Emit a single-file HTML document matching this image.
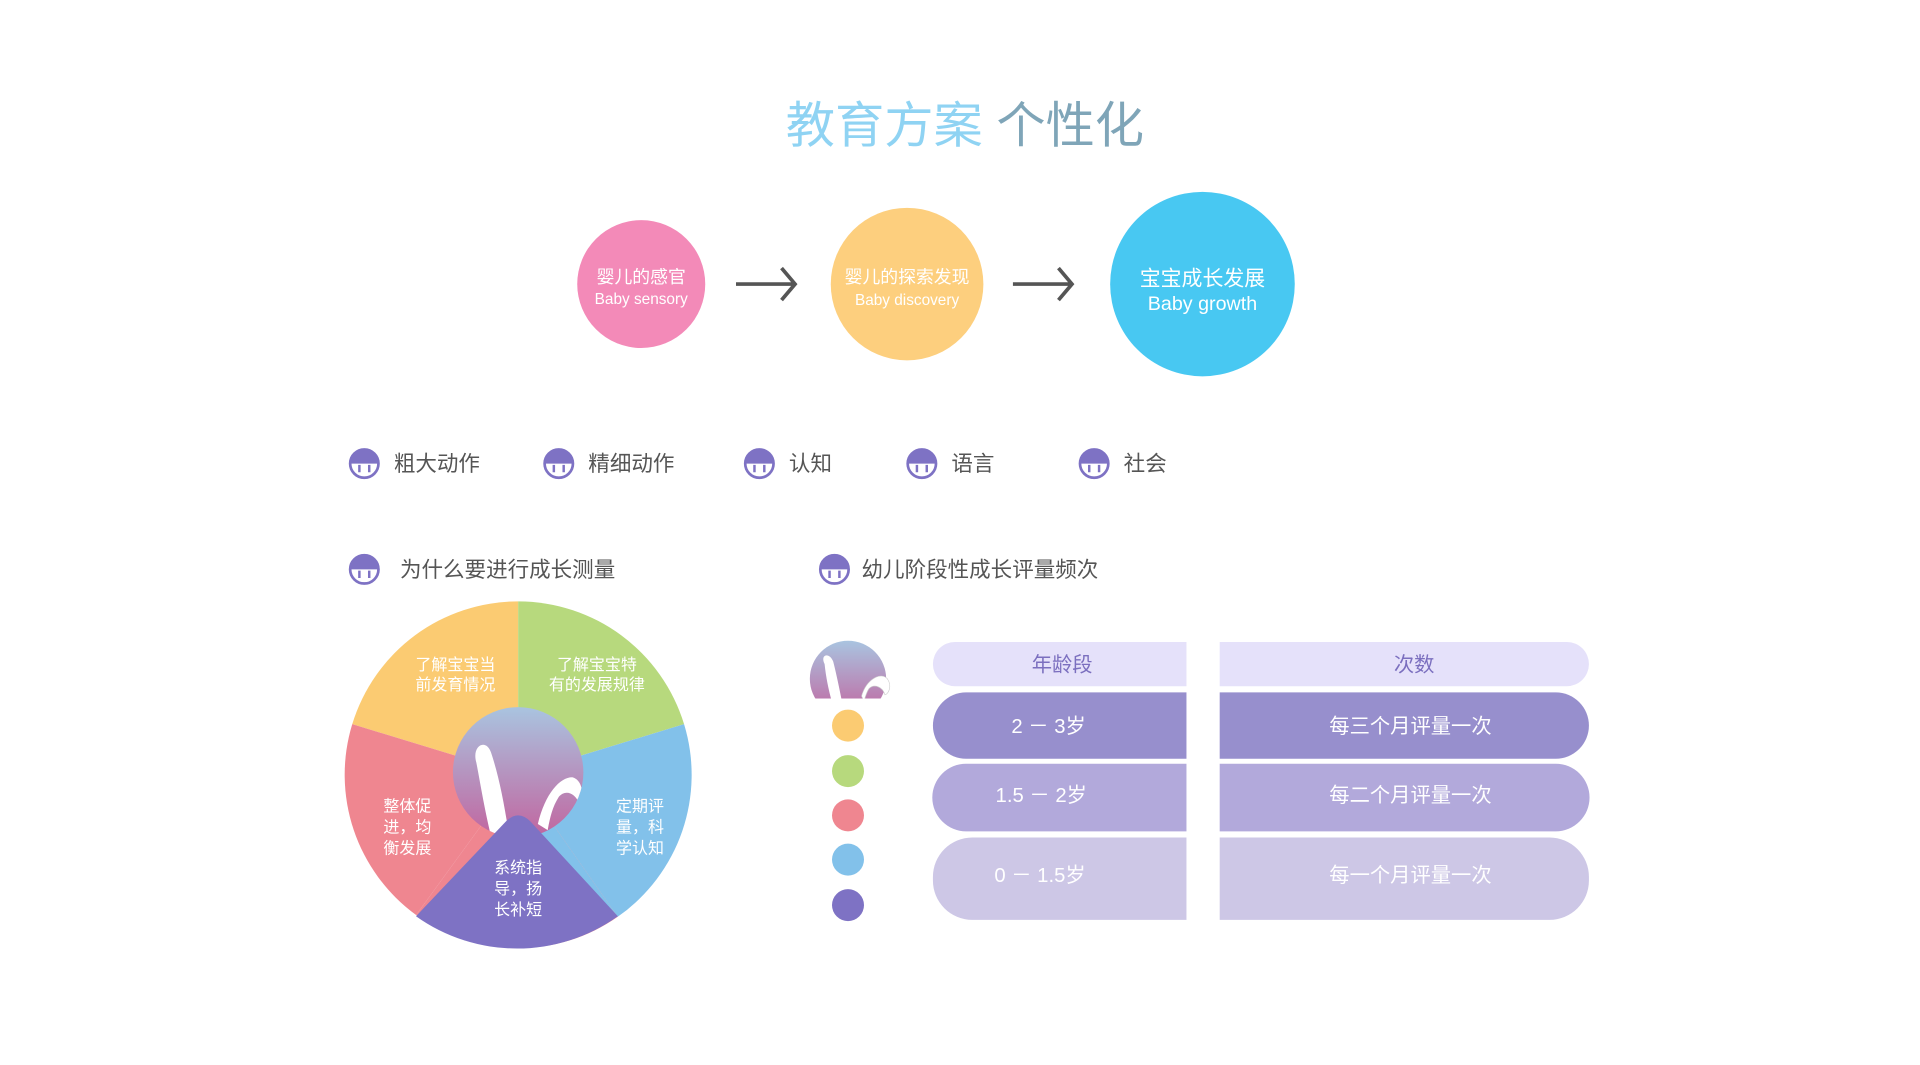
<!DOCTYPE html>
<html><head><meta charset="utf-8"><style>
html,body{margin:0;padding:0;background:#fff;width:1920px;height:1065px;overflow:hidden}
svg{display:block}
text{font-family:"Liberation Sans","Noto Sans CJK SC",sans-serif}
</style></head><body>
<svg width="1920" height="1065" viewBox="0 0 1560 866" preserveAspectRatio="none" xmlns="http://www.w3.org/2000/svg">
<defs>
<linearGradient id="bg" x1="0" y1="0" x2="0" y2="1"><stop offset="0" stop-color="#a9c4e0"/><stop offset="1" stop-color="#c1659f"/></linearGradient>
<clipPath id="cc"><circle cx="0" cy="-2" r="53"/></clipPath>
<g id="ic"><circle r="11.5" fill="#fff" stroke="#7e72c4" stroke-width="2.2"/><path d="M-11.5,0 A11.5,11.5 0 0 1 11.5,0 Z" fill="#7e72c4"/><path d="M-4,1 v6 M4,1 v6" stroke="#7e72c4" stroke-width="2"/></g>
</defs>
<text x="784" y="116" text-anchor="middle" font-size="40"><tspan fill="#8fd3f3">教育方案 </tspan><tspan fill="#7fa5b8">个性化</tspan></text>

<circle cx="521" cy="231" r="52" fill="#f38ab8"/>
<text x="521" y="230" text-anchor="middle" font-size="14.5" fill="#fff">婴儿的感官</text>
<text x="521" y="247" text-anchor="middle" font-size="12.5" fill="#fff">Baby sensory</text>
<circle cx="737" cy="231" r="62" fill="#fdcf7e"/>
<text x="737" y="230" text-anchor="middle" font-size="14.5" fill="#fff">婴儿的探索发现</text>
<text x="737" y="248" text-anchor="middle" font-size="12.5" fill="#fff">Baby discovery</text>
<circle cx="977" cy="231" r="75" fill="#48c8f2"/>
<text x="977" y="232" text-anchor="middle" font-size="17" fill="#fff">宝宝成长发展</text>
<text x="977" y="252" text-anchor="middle" font-size="16" fill="#fff">Baby growth</text>
<g stroke="#555" stroke-width="3" fill="none"><path d="M598,231 H645 M635,218 L646,231 L635,244"/><path d="M823,231 H870 M860,218 L871,231 L860,244"/></g>

<g font-size="17.5" fill="#555">
<use href="#ic" x="296" y="377"/><text x="320" y="383">粗大动作</text>
<use href="#ic" x="454" y="377"/><text x="478" y="383">精细动作</text>
<use href="#ic" x="617" y="377"/><text x="641" y="383">认知</text>
<use href="#ic" x="749" y="377"/><text x="773" y="383">语言</text>
<use href="#ic" x="889" y="377"/><text x="913" y="383">社会</text>
<use href="#ic" x="296" y="463"/><text x="325" y="469">为什么要进行成长测量</text>
<use href="#ic" x="678" y="463"/><text x="700" y="469">幼儿阶段性成长评量频次</text>
</g>

<!-- pie -->
<g transform="translate(421,630)">
<path d="M0,0 L-134.8,-41.2 A141,141 0 0 1 0,-141 Z" fill="#fbcb72"/>
<path d="M0,0 L0,-141 A141,141 0 0 1 134.8,-41.2 Z" fill="#b7d97d"/>
<path d="M0,0 L134.8,-41.2 A141,141 0 0 1 80.9,115.5 Z" fill="#82c1ea"/>
<path d="M0,0 L-82.9,114 A141,141 0 0 1 -134.8,-41.2 Z" fill="#ef8690"/>
<path d="M0,0 L80.9,115.5 A141,141 0 0 1 -82.9,114 Z" fill="#ef8690"/>
<path d="M0,0 L80.9,115.5 L0,60 Z" fill="#82c1ea"/>
<circle cx="0" cy="-2" r="53" fill="url(#bg)"/>
<g clip-path="url(#cc)">
<path d="M-34,-10 C-38,-24 -26,-30 -22,-18 C-16,0 -12,20 -8,45 L-22,50 C-28,25 -31,5 -34,-10 Z" fill="#fff"/>
<path d="M16,40 C22,15 34,2 44,2 C52,4 54,16 50,24 C46,14 38,12 33,18 C28,26 26,34 24,45 Z" fill="#fff"/>
</g>
<path d="M-83,115 L-10,38 Q0,28 10,38 L81,115 A141,141 0 0 1 -83,115 Z" fill="#7e72c4"/>
</g>
<g font-size="13" fill="#fff" text-anchor="middle">
<text x="370" y="545">了解宝宝当</text><text x="370" y="561">前发育情况</text>
<text x="485" y="545">了解宝宝特</text><text x="485" y="561">有的发展规律</text>
<text x="331" y="660">整体促</text><text x="331" y="677">进，均</text><text x="331" y="694">衡发展</text>
<text x="520" y="660">定期评</text><text x="520" y="677">量，科</text><text x="520" y="694">学认知</text>
<text x="421" y="710">系统指</text><text x="421" y="727">导，扬</text><text x="421" y="744">长补短</text>
</g>

<!-- table -->
<circle cx="689" cy="552" r="31" fill="url(#bg)"/>
<path d="M670,540 C666,532 674,530 677,538 C680,550 682,560 684,570 L676,571 C673,560 671,550 670,540 Z" fill="#fff"/>
<path d="M700,566 C704,552 716,546 721,552 C725,558 722,564 719,565 C717,558 710,556 706,560 C704,563 703,567 702,570 Z" fill="#fff" stroke="#ccc" stroke-width="0.5"/>
<rect x="640" y="568" width="100" height="20" fill="#fff"/>
<circle cx="689" cy="590" r="13" fill="#fbcb72"/>
<circle cx="689" cy="627" r="13" fill="#b7d97d"/>
<circle cx="689" cy="663" r="13" fill="#ef8690"/>
<circle cx="689" cy="699" r="13" fill="#82c1ea"/>
<circle cx="689" cy="736" r="13" fill="#7e72c4"/>

<path d="M776,522 H964 V558 H776 A18,18 0 0 1 776,522 Z" fill="#e5e1fa"/>
<path d="M991,522 H1273 A18,18 0 0 1 1273,558 H991 Z" fill="#e5e1fa"/>
<path d="M785,563 H964 V617 H785 A27,27 0 0 1 785,563 Z" fill="#978fcd"/>
<path d="M991,563 H1264 A27,27 0 0 1 1264,617 H991 Z" fill="#978fcd"/>
<path d="M785,621 H964 V676 H785 A27,27 0 0 1 785,621 Z" fill="#b2a9db"/>
<path d="M991,621 H1264 A27,27 0 0 1 1264,676 H991 Z" fill="#b2a9db"/>
<path d="M790,681 H964 V748 H790 A32,32 0 0 1 758,716 V713 A32,32 0 0 1 790,681 Z" fill="#cdc7e6"/>
<path d="M991,681 H1259 A32,32 0 0 1 1291,713 V716 A32,32 0 0 1 1259,748 H991 Z" fill="#cdc7e6"/>
<g text-anchor="middle" font-size="16.5">
<text x="863" y="546" fill="#7b6fbf">年龄段</text><text x="1149" y="546" fill="#7b6fbf">次数</text>
<text x="852" y="596" fill="#fff">2 － 3岁</text><text x="1146" y="596" fill="#fff">每三个月评量一次</text>
<text x="846" y="652" fill="#fff">1.5 － 2岁</text><text x="1146" y="652" fill="#fff">每二个月评量一次</text>
<text x="845" y="717" fill="#fff">0 － 1.5岁</text><text x="1146" y="717" fill="#fff">每一个月评量一次</text>
</g>
</svg>
</body></html>
